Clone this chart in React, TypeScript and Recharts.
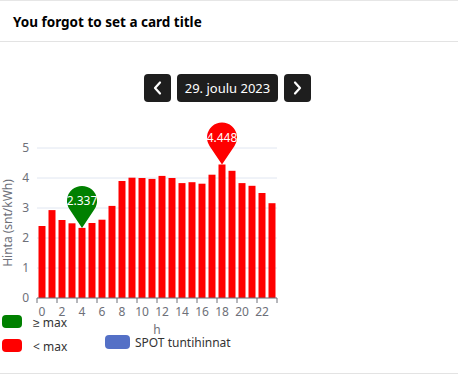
import { BarChart, Bar, XAxis, YAxis, CartesianGrid, ReferenceDot } from "recharts";

const hours = [0, 1, 2, 3, 4, 5, 6, 7, 8, 9, 10, 11, 12, 13, 14, 15, 16, 17, 18, 19, 20, 21, 22, 23];
const prices = [
  2.4, 2.93, 2.6, 2.49, 2.337, 2.5, 2.61, 3.07, 3.9, 4.01, 4.0, 3.97,
  4.07, 4.0, 3.83, 3.86, 3.81, 4.11, 4.448, 4.24, 3.83, 3.74, 3.5, 3.16,
];
const yTicks = [0, 1, 2, 3, 4, 5];
const minPoint = { hour: 4, value: 2.337, label: "2.337", color: "#008000" };
const maxPoint = { hour: 18, value: 4.448, label: "4.448", color: "#ff0000" };

const data = hours.map((h, i) => ({ hour: h, price: prices[i] }));

const FONT = '"Noto Sans", sans-serif';
const AXIS = "#6e7079";

function Pin(props: any) {
  const { cx, cy, fill, text } = props;
  if (cx == null || cy == null) return null;
  const r = 15;
  const hy = cy - 27;
  // tangent points of the head toward the tip
  const d = cy - hy;
  const a = Math.asin(r / d);
  const tx = r * Math.cos(a);
  const ty = hy + r * Math.sin(a);
  return (
    <g>
      <path
        d={`M ${cx} ${cy} L ${cx - tx} ${ty} A ${r} ${r} 0 1 1 ${cx + tx} ${ty} Z`}
        fill={fill}
      />
      <text x={cx} y={hy} dy="0.35em" textAnchor="middle" fill="#fff" fontSize={12} fontFamily={FONT}>
        {text}
      </text>
    </g>
  );
}

function HourTick(props: any) {
  const { x, y, payload, index } = props;
  const half = payload?.offset || 5;
  const last = index === hours.length - 1;
  return (
    <g>
      {index % 2 === 0 && (
        <>
          <line x1={x - half} y1={y - 8} x2={x - half} y2={y - 3} stroke={AXIS} />
          <text x={x} y={y + 10} textAnchor="middle" fill={AXIS} fontSize={12} fontFamily={FONT}>
            {payload.value}
          </text>
        </>
      )}
      {last && <line x1={x + half} y1={y - 8} x2={x + half} y2={y - 3} stroke={AXIS} />}
    </g>
  );
}

function Chevron({ dir }: { dir: "left" | "right" }) {
  const p = dir === "left" ? "M 6 0.5 L 1 6 L 6 11.5" : "M 1 0.5 L 6 6 L 1 11.5";
  return (
    <svg width={7} height={12} style={{ overflow: "visible" }}>
      <path d={p} fill="none" stroke="#fff" strokeWidth={2.2} strokeLinecap="round" strokeLinejoin="round" />
    </svg>
  );
}

const btn: React.CSSProperties = {
  position: "absolute",
  top: 74,
  height: 28,
  background: "#1e1e1e",
  borderRadius: 4,
  display: "flex",
  alignItems: "center",
  justifyContent: "center",
  color: "#fff",
};

const legendText: React.CSSProperties = {
  position: "absolute",
  fontSize: 12,
  color: "#333",
  lineHeight: "13px",
};

export default function App() {
  return (
    <div
      style={{
        position: "absolute",
        left: 0,
        top: 0,
        width: 458,
        height: 375,
        background: "#fff",
        fontFamily: FONT,
        overflow: "hidden",
      }}
    >
      <div style={{ position: "absolute", left: 0, top: 0, width: 458, height: 1, background: "#e6e6e6" }} />
      <div
        style={{
          position: "absolute",
          left: 13,
          top: 12,
          fontSize: 13.5,
          fontWeight: 700,
          color: "#000",
          lineHeight: "20px",
        }}
      >
        You forgot to set a card title
      </div>
      <div style={{ position: "absolute", left: 0, top: 41, width: 458, height: 1, background: "#e3e3e3" }} />
      <div style={{ position: "absolute", left: 0, top: 373, width: 458, height: 1, background: "#e3e3e3" }} />

      <div style={{ ...btn, left: 144, width: 27 }}>
        <Chevron dir="left" />
      </div>
      <div style={{ ...btn, left: 177, width: 101, fontSize: 13 }}>29. joulu 2023</div>
      <div style={{ ...btn, left: 284, width: 27 }}>
        <Chevron dir="right" />
      </div>

      <div style={{ position: "absolute", left: 0, top: 0 }}>
        <BarChart
          width={458}
          height={375}
          data={data}
          margin={{ top: 148, right: 181, bottom: 53, left: 0 }}
          barCategoryGap="15%"
        >
          <CartesianGrid vertical={false} stroke="#e0e6f1" />
          <XAxis
            dataKey="hour"
            interval={0}
            height={24}
            stroke={AXIS}
            tickLine={false}
            tick={<HourTick />}
            label={{ value: "h", position: "bottom", offset: 3, fill: AXIS, fontSize: 12, fontFamily: FONT }}
          />
          <YAxis
            width={37}
            domain={[0, 5]}
            ticks={yTicks}
            axisLine={false}
            tickLine={false}
            tick={{ fill: AXIS, fontSize: 12, fontFamily: FONT }}
            label={{
              content: (p: any) => {
                const vb = p.viewBox || { x: 0, y: 148, height: 150 };
                const cx = vb.x + 8;
                const cy = vb.y + vb.height / 2;
                return (
                  <text
                    x={cx}
                    y={cy}
                    transform={`rotate(-90 ${cx} ${cy})`}
                    textAnchor="middle"
                    dy="0.35em"
                    fill={AXIS}
                    fontSize={12}
                    fontFamily={FONT}
                  >
                    Hinta (snt/kWh)
                  </text>
                );
              },
            }}
          />
          <Bar dataKey="price" fill="#ff0000" isAnimationActive={false} />
          <ReferenceDot
            x={minPoint.hour}
            y={minPoint.value}
            shape={(p: any) => <Pin {...p} fill={minPoint.color} text={minPoint.label} />}
          />
          <ReferenceDot
            x={maxPoint.hour}
            y={maxPoint.value}
            shape={(p: any) => <Pin {...p} fill={maxPoint.color} text={maxPoint.label} />}
          />
        </BarChart>
      </div>

      <div style={{ position: "absolute", left: 2, top: 315, width: 20, height: 13, borderRadius: 4, background: "#008000" }} />
      <div style={{ ...legendText, left: 33, top: 316 }}>≥ max</div>
      <div style={{ position: "absolute", left: 2, top: 339, width: 20, height: 13, borderRadius: 4, background: "#ff0000" }} />
      <div style={{ ...legendText, left: 33, top: 340 }}>&lt; max</div>
      <div style={{ position: "absolute", left: 105, top: 335, width: 25, height: 14, borderRadius: 4, background: "#5470c6" }} />
      <div style={{ ...legendText, left: 135, top: 336 }}>SPOT tuntihinnat</div>
    </div>
  );
}
